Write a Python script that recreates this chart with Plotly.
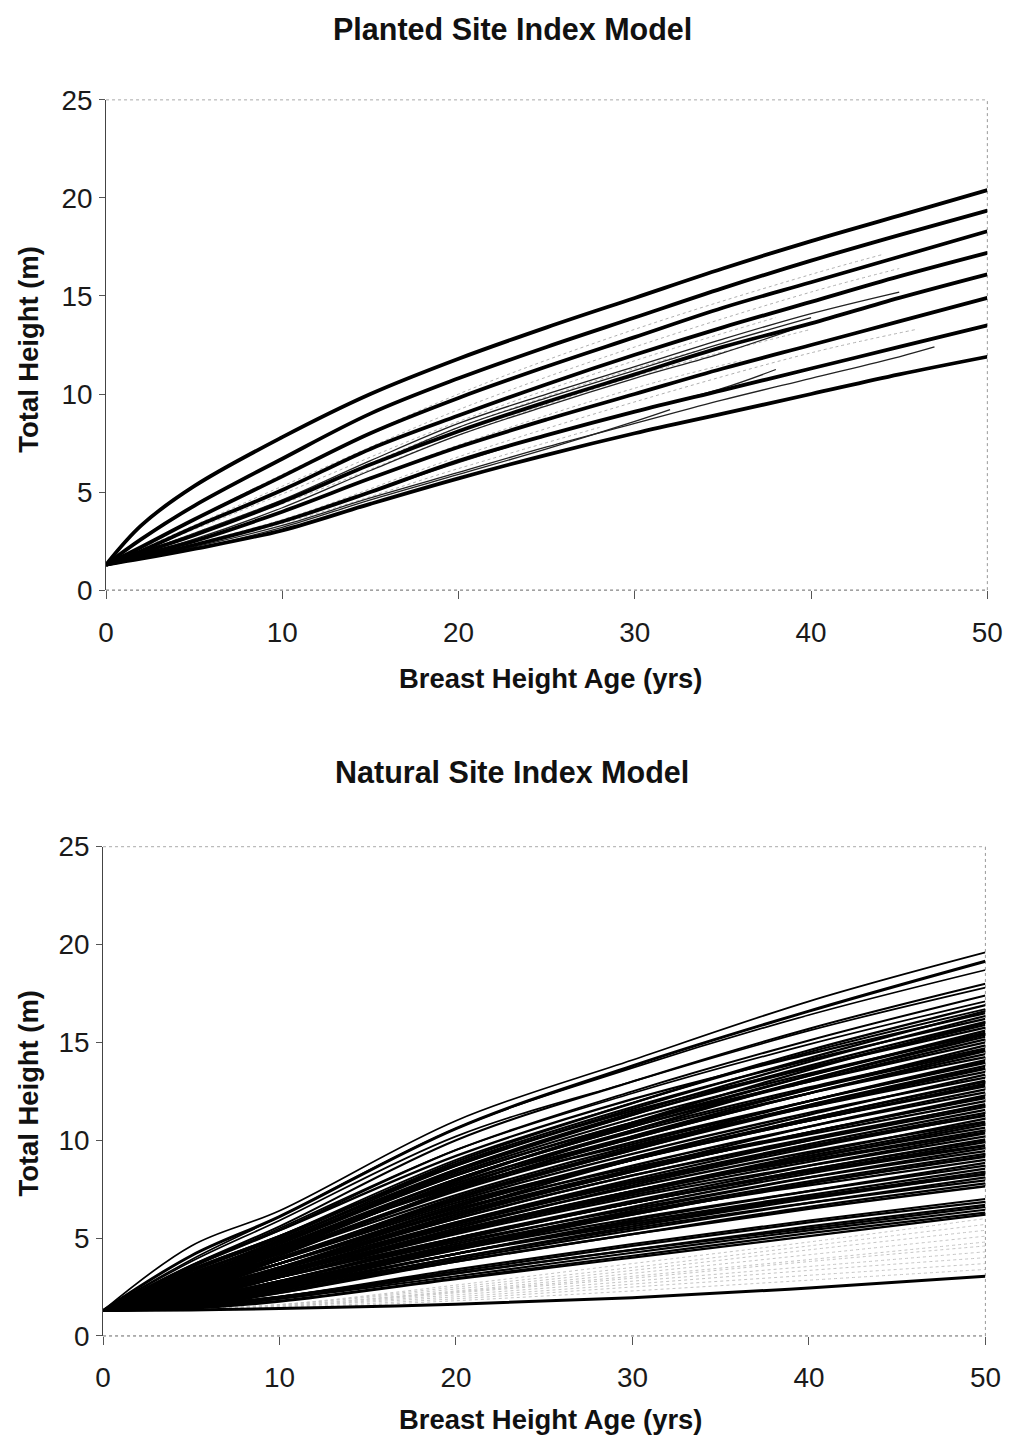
import plotly.graph_objects as go

# ---------------- data ----------------
AGE_TICKS = [0, 10, 20, 30, 40, 50]
HEIGHT_TICKS = [0, 5, 10, 15, 20, 25]
START_HEIGHT = 1.3  # height at breast-height age 0

# Planted model: site-index curves (thick)
planted_ages = [0, 2, 5, 10, 15, 20, 25, 30, 35, 40, 45, 50]
planted_site_curves = [
    [1.3, 3.3, 5.3, 7.8, 10.0, 11.8, 13.4, 14.9, 16.4, 17.8, 19.1, 20.4],
    [1.3, 2.6, 4.3, 6.7, 9.0, 10.8, 12.4, 13.9, 15.4, 16.8, 18.1, 19.35],
    [1.3, 2.2, 3.6, 5.8, 8.0, 9.8, 11.4, 12.9, 14.4, 15.7, 17.0, 18.3],
    [1.3, 2.0, 3.2, 5.1, 7.2, 8.9, 10.5, 12.0, 13.4, 14.7, 16.0, 17.2],
    [1.3, 1.9, 2.8, 4.5, 6.4, 8.1, 9.6, 11.0, 12.4, 13.6, 14.9, 16.1],
    [1.3, 1.8, 2.5, 4.0, 5.7, 7.3, 8.7, 10.0, 11.3, 12.5, 13.7, 14.9],
    [1.3, 1.7, 2.3, 3.5, 5.0, 6.6, 7.9, 9.1, 10.2, 11.3, 12.4, 13.5],
    [1.3, 1.6, 2.1, 3.05, 4.4, 5.7, 6.9, 8.0, 9.0, 10.0, 11.0, 11.9],
]

# Planted model: observed stem-analysis trees (thin black)
planted_obs_ages = [
    [0, 5, 10, 15, 20, 25, 30, 35, 40, 45],
    [0, 5, 10, 15, 20, 25, 30, 35, 40],
    [0, 5, 10, 15, 20, 25, 30, 35, 39],
    [0, 5, 10, 15, 20, 25, 30, 35, 40, 45, 47],
    [0, 5, 10, 15, 20, 25, 30, 35, 38],
    [0, 5, 10, 15, 20, 25, 30, 32],
]
planted_obs_heights = [
    [1.3, 2.9, 4.6, 6.6, 8.5, 10.0, 11.4, 12.8, 14.1, 15.2],
    [1.3, 2.8, 4.5, 6.4, 8.3, 9.8, 11.2, 12.6, 13.9],
    [1.3, 2.6, 4.2, 6.1, 7.9, 9.4, 10.8, 12.1, 13.3],
    [1.3, 2.2, 3.3, 4.7, 6.0, 7.3, 8.5, 9.7, 10.8, 11.9, 12.4],
    [1.3, 2.3, 3.5, 5.0, 6.5, 7.9, 9.1, 10.3, 11.25],
    [1.3, 2.1, 3.2, 4.6, 5.9, 7.2, 8.6, 9.2],
]

# Planted model: faint (grey) observed trees
planted_faint_ages = [
    [0, 10, 20, 30, 40, 44],
    [0, 10, 20, 30, 40, 45],
    [0, 10, 20, 30, 38],
    [0, 10, 20, 30, 40],
    [0, 10, 20, 30, 36],
    [0, 10, 20, 30, 40, 46],
    [0, 10, 20, 28],
    [0, 10, 20, 30, 34],
]
planted_faint_heights = [
    [1.3, 5.9, 10.0, 13.3, 16.1, 17.1],
    [1.3, 5.3, 9.2, 12.4, 15.2, 16.4],
    [1.3, 4.9, 8.6, 11.7, 13.9],
    [1.3, 4.4, 7.9, 10.9, 13.3],
    [1.3, 4.0, 7.4, 10.3, 11.7],
    [1.3, 3.6, 6.8, 9.6, 12.1, 13.3],
    [1.3, 3.4, 6.2, 8.3],
    [1.3, 4.6, 8.3, 11.3, 12.3],
]

# Natural model: heights at ages 5, 10, 20, 30, 40, 50
natural_ages = [0, 5, 10, 20, 30, 40, 50]
natural_upper = [
    [4.6, 6.4, 11.0, 14.1, 17.1, 19.6],
    [4.1, 6.1, 10.6, 13.8, 16.6, 19.15],
    [3.9, 6.1, 10.6, 13.7, 16.4, 18.7],
    [3.6, 5.6, 10.0, 13.0, 15.7, 18.0],
    [3.8, 5.9, 10.2, 13.0, 15.6, 17.8],
    [3.5, 5.4, 9.5, 12.5, 15.1, 17.4],
    [3.5, 5.5, 9.5, 12.4, 14.9, 17.1],
    [3.3, 5.1, 9.0, 11.9, 14.5, 16.7],
]
natural_upper_widths = [1.7, 3.0, 1.7, 2.0, 1.7, 2.0, 1.7, 2.0]
natural_dense = [
    [3.6, 5.4, 9.2, 12.1, 14.4, 16.5], [3.0, 4.7, 8.5, 11.4, 14.0, 16.35],
    [3.4, 5.1, 8.8, 11.7, 14.1, 16.2], [3.0, 4.8, 8.4, 11.3, 13.8, 16.05],
    [3.1, 4.9, 8.5, 11.3, 13.7, 15.9], [3.4, 5.1, 8.7, 11.5, 13.7, 15.75],
    [2.8, 4.4, 8.0, 10.8, 13.3, 15.6], [3.2, 4.8, 8.3, 11.1, 13.4, 15.45],
    [2.8, 4.5, 8.0, 10.7, 13.1, 15.3], [2.9, 4.6, 8.0, 10.7, 13.0, 15.15],
    [3.2, 4.8, 8.2, 10.9, 13.0, 15.0], [2.6, 4.2, 7.5, 10.2, 12.6, 14.85],
    [3.0, 4.5, 7.8, 10.5, 12.7, 14.7], [2.7, 4.2, 7.5, 10.1, 12.4, 14.55],
    [2.8, 4.3, 7.5, 10.1, 12.4, 14.4], [3.0, 4.5, 7.7, 10.2, 12.4, 14.25],
    [2.4, 3.9, 7.1, 9.6, 12.0, 14.1], [2.8, 4.2, 7.4, 9.9, 12.0, 13.95],
    [2.5, 3.9, 7.0, 9.5, 11.8, 13.8], [2.6, 4.0, 7.0, 9.5, 11.7, 13.65],
    [2.8, 4.2, 7.2, 9.7, 11.7, 13.5], [2.3, 3.7, 6.6, 9.1, 11.3, 13.35],
    [2.6, 4.0, 6.9, 9.3, 11.4, 13.2], [2.4, 3.7, 6.6, 9.0, 11.1, 13.05],
    [2.5, 3.7, 6.6, 9.0, 11.0, 12.9], [2.6, 3.9, 6.7, 9.1, 11.0, 12.75],
    [2.2, 3.4, 6.2, 8.5, 10.7, 12.6], [2.5, 3.7, 6.4, 8.7, 10.7, 12.45],
    [2.2, 3.4, 6.1, 8.4, 10.4, 12.3], [2.3, 3.5, 6.2, 8.4, 10.4, 12.15],
    [2.5, 3.7, 6.3, 8.5, 10.3, 12.0], [2.0, 3.2, 5.8, 8.0, 10.0, 11.85],
    [2.3, 3.5, 6.0, 8.2, 10.0, 11.7], [2.1, 3.2, 5.7, 7.9, 9.8, 11.55],
    [2.2, 3.3, 5.7, 7.8, 9.7, 11.4], [2.3, 3.4, 5.8, 7.9, 9.7, 11.25],
    [1.9, 3.0, 5.4, 7.4, 9.3, 11.1], [2.2, 3.2, 5.6, 7.6, 9.4, 10.95],
    [2.0, 3.0, 5.3, 7.3, 9.1, 10.8], [2.0, 3.0, 5.3, 7.3, 9.1, 10.65],
    [2.2, 3.2, 5.4, 7.4, 9.0, 10.5], [1.8, 2.8, 5.0, 6.9, 8.7, 10.35],
    [2.0, 3.0, 5.2, 7.1, 8.7, 10.2], [1.8, 2.8, 4.9, 6.8, 8.5, 10.05],
    [1.9, 2.8, 4.9, 6.8, 8.4, 9.9], [2.1, 3.0, 5.0, 6.8, 8.4, 9.75],
    [1.7, 2.6, 4.6, 6.4, 8.1, 9.6], [1.9, 2.8, 4.8, 6.5, 8.1, 9.45],
    [1.8, 2.6, 4.5, 6.3, 7.9, 9.3], [1.8, 2.6, 4.5, 6.2, 7.8, 9.15],
    [2.0, 2.7, 4.6, 6.3, 7.7, 9.0], [1.6, 2.4, 4.2, 5.9, 7.4, 8.85],
    [1.8, 2.6, 4.4, 6.0, 7.4, 8.7], [1.7, 2.4, 4.2, 5.8, 7.2, 8.55],
    [1.7, 2.4, 4.2, 5.7, 7.1, 8.4], [1.8, 2.5, 4.2, 5.8, 7.1, 8.25],
    [1.5, 2.2, 3.9, 5.4, 6.8, 8.1], [1.7, 2.4, 4.0, 5.5, 6.8, 7.95],
    [1.6, 2.2, 3.8, 5.2, 6.6, 7.8], [1.6, 2.3, 3.8, 5.2, 6.5, 7.65],
    [2.6, 4.5, 7.6, 9.8, 12.0, 14.0], [2.2, 3.5, 6.4, 9.0, 11.1, 13.0],
    [2.4, 3.7, 6.5, 8.6, 10.4, 12.2], [2.0, 3.1, 5.5, 7.7, 9.6, 11.3],
    [2.1, 3.2, 5.3, 7.2, 8.9, 10.4], [1.8, 2.7, 4.7, 6.6, 8.3, 9.7],
    [3.0, 4.7, 8.2, 10.9, 13.3, 15.5], [2.9, 4.4, 7.8, 10.4, 12.6, 14.6],
    [2.4, 3.9, 7.0, 9.6, 11.8, 13.7], [2.5, 3.9, 6.8, 9.0, 11.0, 12.8],
    [2.2, 3.4, 6.0, 8.2, 10.1, 11.8], [1.9, 3.0, 5.3, 7.4, 9.2, 10.9],
    [2.0, 3.0, 5.0, 6.8, 8.5, 10.0], [1.7, 2.5, 4.4, 6.2, 7.8, 9.2],
    [1.6, 2.3, 4.0, 5.6, 7.0, 8.3],
    [3.3, 5.0, 8.9, 11.9, 14.6, 16.9], [3.1, 4.9, 8.7, 11.6, 14.2, 16.6],
    [2.7, 4.3, 7.9, 10.9, 13.6, 16.0], [2.6, 4.1, 7.6, 10.5, 13.1, 15.4],
]
natural_cluster = [
    [1.6, 2.0, 3.4, 4.7, 5.9, 7.0], [1.5, 2.0, 3.3, 4.6, 5.8, 6.85],
    [1.5, 1.9, 3.2, 4.4, 5.6, 6.7], [1.5, 2.0, 3.2, 4.4, 5.5, 6.6],
    [1.45, 1.9, 3.05, 4.25, 5.4, 6.45], [1.45, 1.8, 2.95, 4.1, 5.25, 6.3],
    [1.4, 1.75, 2.9, 4.0, 5.1, 6.2],
]
natural_faint = [
    [1.4, 1.6, 2.6, 3.7, 4.8, 6.0], [1.4, 1.6, 2.5, 3.5, 4.6, 5.7],
    [1.4, 1.6, 2.4, 3.35, 4.4, 5.4], [1.4, 1.55, 2.3, 3.2, 4.15, 5.1],
    [1.35, 1.55, 2.25, 3.05, 3.9, 4.8], [1.35, 1.5, 2.2, 2.95, 3.8, 4.6],
    [1.35, 1.5, 2.1, 2.8, 3.55, 4.3], [1.35, 1.5, 2.0, 2.65, 3.35, 4.0],
    [1.35, 1.45, 1.9, 2.5, 3.1, 3.7], [1.3, 1.4, 1.8, 2.3, 2.85, 3.4],
]
natural_lowest = [1.33, 1.4, 1.62, 1.95, 2.45, 3.05]

# ---------------- figure ----------------
fig = go.Figure()


def add_line(x, y, axis, color, width, dash="solid", shape="spline"):
    xa, ya = axis
    fig.add_trace(go.Scatter(
        x=x, y=y, mode="lines", xaxis=xa, yaxis=ya, hoverinfo="skip",
        line=dict(color=color, width=width, dash=dash, shape=shape, smoothing=1.0),
        showlegend=False))


TOP = ("x", "y")
BOT = ("x2", "y2")

# top panel
for a, h in zip(planted_faint_ages, planted_faint_heights):
    add_line(a, h, TOP, "#b0b0b0", 1.0, "dot")
for a, h in zip(planted_obs_ages, planted_obs_heights):
    add_line(a, h, TOP, "#222222", 1.3)
for h in planted_site_curves:
    add_line(planted_ages, h, TOP, "#000000", 3.8)

# bottom panel
for row in natural_faint:
    add_line(natural_ages, [START_HEIGHT] + row, BOT, "#c4c4c4", 1.0, "dot")
for row in natural_dense:
    add_line(natural_ages, [START_HEIGHT] + row, BOT, "#000000", 2.3)
for row in natural_cluster:
    add_line(natural_ages, [START_HEIGHT] + row, BOT, "#000000", 2.2)
for row, w in zip(natural_upper, natural_upper_widths):
    add_line(natural_ages, [START_HEIGHT] + row, BOT, "#000000", w)
add_line(natural_ages, [START_HEIGHT] + natural_lowest, BOT, "#000000", 3.0)

W, H = 1018, 1441
# mapping from wanted picture pixels to layout pixels (measured on the capture)
SX, OX, SY, OY = 0.978, 6.8, 0.98, 15.0
FS = 1 / 0.985
RIGHT_LIMIT = 1003  # keep the "50" tick label inside the page


def fx(px):
    return (px - OX) / SX / W


def fy(py):
    return 1 - (py - OY) / SY / H


tickfont = dict(family="Liberation Sans, Arial, sans-serif", size=round(27.5 * FS, 1),
                color="#1a1a1a")


def xaxis(domain, anchor):
    return dict(domain=domain, anchor=anchor, range=[0, 50], tickvals=AGE_TICKS,
                ticks="outside", ticklen=8, tickwidth=1, tickcolor="#555",
                showline=False, showgrid=False, zeroline=False,
                tickfont=tickfont, ticklabelstandoff=9, fixedrange=True,
                ticklabeloverflow="allow")


def yaxis(domain, anchor):
    return dict(domain=domain, anchor=anchor, range=[0, 25], tickvals=HEIGHT_TICKS,
                ticks="outside", ticklen=6, tickwidth=1, tickcolor="#555",
                showline=True, linecolor="#444", linewidth=1,
                showgrid=False, zeroline=False, tickfont=tickfont,
                ticklabelstandoff=1, fixedrange=True)


top_x = [fx(105), min(fx(997), RIGHT_LIMIT / W)]
bot_x = [fx(102), min(fx(995), (RIGHT_LIMIT - 2) / W)]
top_y = [fy(591), fy(100)]
bot_y = [fy(1338), fy(848)]

shapes = []
for xr, yr in (("x", "y"), ("x2", "y2")):
    xd, yd = xr + " domain", yr + " domain"
    shapes += [
        dict(type="line", xref=xd, yref=yd, x0=0, x1=1, y0=0, y1=0,
             line=dict(color="#666", width=1, dash="dot"), layer="below"),
        dict(type="line", xref=xd, yref=yd, x0=0, x1=1, y0=1, y1=1,
             line=dict(color="#aaa", width=1, dash="dot"), layer="below"),
        dict(type="line", xref=xd, yref=yd, x0=1, x1=1, y0=0, y1=1,
             line=dict(color="#999", width=1, dash="dot"), layer="below"),
    ]

title_font = dict(family="Liberation Sans, Arial, sans-serif", size=round(30 * FS, 1),
                  color="#111")
axis_font = dict(family="Liberation Sans, Arial, sans-serif", size=round(27 * FS, 1),
                 color="#111")


def ann(text, x, y, font, angle=0):
    return dict(text=text, x=fx(x), y=fy(y), xref="paper", yref="paper",
                showarrow=False, font=font, textangle=angle,
                xanchor="center", yanchor="middle")


annotations = [
    ann("<b>Planted Site Index Model</b>", 512, 29, title_font),
    ann("<b>Natural Site Index Model</b>", 512, 773, title_font),
    ann("<b>Breast Height Age (yrs)</b>", 550, 680, axis_font),
    ann("<b>Breast Height Age (yrs)</b>", 550, 1422, axis_font),
    ann("<b>Total Height (m)</b>", 27, 350, axis_font, -90),
    ann("<b>Total Height (m)</b>", 27, 1095, axis_font, -90),
]

fig.update_layout(
    width=W, height=H, margin=dict(l=0, r=0, t=0, b=0),
    paper_bgcolor="white", plot_bgcolor="white", showlegend=False,
    xaxis=xaxis(top_x, "y"), yaxis=yaxis(top_y, "x"),
    xaxis2=xaxis(bot_x, "y2"), yaxis2=yaxis(bot_y, "x2"),
    shapes=shapes, annotations=annotations,
)

fig.write_html("out.html", config={"displayModeBar": False})
